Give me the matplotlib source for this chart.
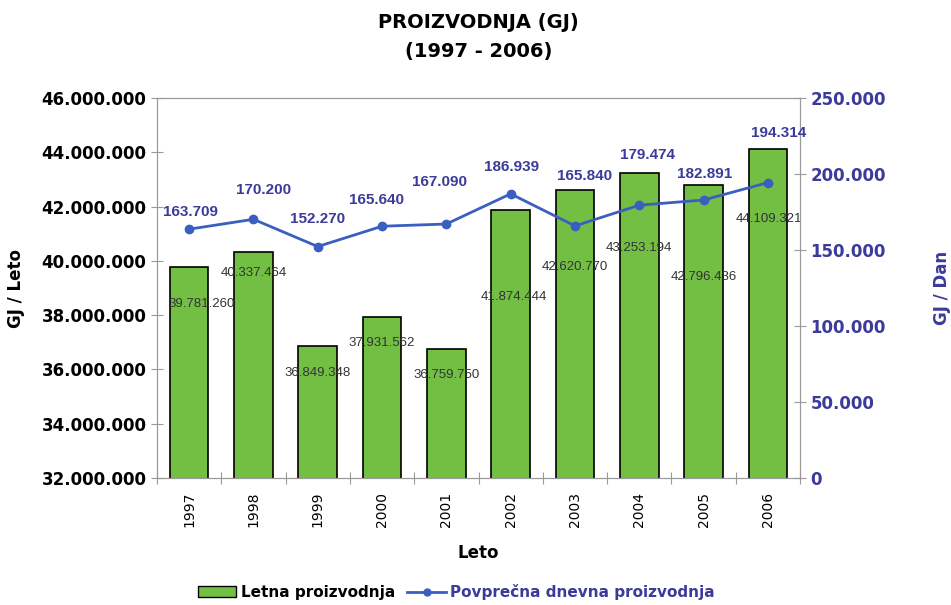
import matplotlib
matplotlib.use("Agg")
import matplotlib.pyplot as plt
from matplotlib.ticker import FuncFormatter
from matplotlib.patches import Patch
from matplotlib.lines import Line2D

# podatki
leta = ["1997", "1998", "1999", "2000", "2001", "2002", "2003", "2004", "2005", "2006"]
letna = [39781260, 40337464, 36849348, 37931562, 36759750,
         41874444, 42620770, 43253194, 42796436, 44109321]
dnevna = [163709, 170200, 152270, 165640, 167090,
          186939, 165840, 179474, 182891, 194314]

# zamiki oznak (v točkah)
bar_dx = [9, 0, 0, 0, 0, 2, 0, 0, 0, 1]
bar_dy = [-27, -15, -19, -19, -19, -63, -56, -54, -66, -50]
line_dx = [1, 7, 0, -4, -5, 1, 7, 6, 1, 8]
line_dy = [12, 21, 20, 19, 30, 19, 36, 36, 19, 36]

GREEN = "#72bf44"
BLUE = "#3a5fbf"
DARK_BLUE = "#3b3b9b"
GRAY = "#999999"


def dots(v, pos=None):
    return f"{int(round(v)):,}".replace(",", ".")


fig = plt.figure(figsize=(9.51, 6.05), dpi=100)
ax = fig.add_axes([157 / 951, 1 - 478 / 605, 643 / 951, 380 / 605])
x = list(range(len(leta)))

ax.bar(x, letna, width=0.6, color=GREEN, edgecolor="black", linewidth=1.2, zorder=2)
ax.set_ylim(32000000, 46000000)
ax.set_xlim(-0.5, len(leta) - 0.5)
ax.set_yticks(range(32000000, 46000001, 2000000))
ax.yaxis.set_major_formatter(FuncFormatter(dots))

# oznake let na sredini, kljukice med stolpci
ax.set_xticks([i - 0.5 for i in range(len(leta) + 1)])
ax.set_xticklabels([])
ax.set_xticks(x, minor=True)
ax.set_xticklabels(leta, minor=True, rotation=90, fontsize=10)
ax.tick_params(axis="x", which="minor", length=0, pad=10)

for lbl in ax.get_yticklabels():
    lbl.set_fontweight("bold")
    lbl.set_fontsize(12)
ax.set_ylabel("GJ / Leto", fontsize=12, fontweight="bold", labelpad=12)
ax.set_xlabel("Leto", fontsize=12, fontweight="bold", labelpad=12)

for i, v in enumerate(letna):
    ax.annotate(dots(v), (i, v), xytext=(bar_dx[i], bar_dy[i]),
                textcoords="offset points", ha="center", va="center",
                fontsize=9.5, family="Liberation Sans", color="#333333", zorder=5)

ax2 = ax.twinx()
ax2.plot(x, dnevna, color=BLUE, linewidth=2, marker="o", markersize=6, zorder=4)
ax2.set_ylim(0, 250000)
ax2.set_yticks(range(0, 250001, 50000))
ax2.yaxis.set_major_formatter(FuncFormatter(dots))
for lbl in ax2.get_yticklabels():
    lbl.set_fontweight("bold")
    lbl.set_fontsize(12)
    lbl.set_color(DARK_BLUE)
ax2.set_ylabel("GJ / Dan", fontsize=12, fontweight="bold", color=DARK_BLUE, labelpad=34)

for i, v in enumerate(dnevna):
    ax2.annotate(dots(v), (i, v), xytext=(line_dx[i], line_dy[i]),
                 textcoords="offset points", ha="center", va="center",
                 fontsize=11, fontweight="bold", family="Liberation Sans",
                 color=DARK_BLUE)

for a in (ax, ax2):
    for s in a.spines.values():
        s.set_color(GRAY)
    a.tick_params(which="major", colors=GRAY, length=8, direction="inout")
ax.tick_params(axis="both", labelcolor="black")
ax2.tick_params(axis="y", labelcolor=DARK_BLUE)

fig.text(0.503, 1 - 22 / 605, "PROIZVODNJA (GJ)", ha="center", va="center",
         fontsize=14, fontweight="bold")
fig.text(0.503, 1 - 52 / 605, "(1997 - 2006)", ha="center", va="center",
         fontsize=14, fontweight="bold")

handles = [Patch(facecolor=GREEN, edgecolor="black"),
           Line2D([0], [0], color=BLUE, linewidth=2, marker="o", markersize=5)]
leg = fig.legend(handles, ["Letna proizvodnja", "Povprečna dnevna proizvodnja"],
                 loc="center", bbox_to_anchor=(0.48, 1 - 592 / 605), ncol=2,
                 frameon=False, fontsize=11, handlelength=2.5,
                 columnspacing=0.8, handletextpad=0.3)
texts = leg.get_texts()
texts[0].set_fontweight("bold")
texts[1].set_fontweight("bold")
texts[1].set_color(DARK_BLUE)

fig.savefig("out.png", dpi=100)
